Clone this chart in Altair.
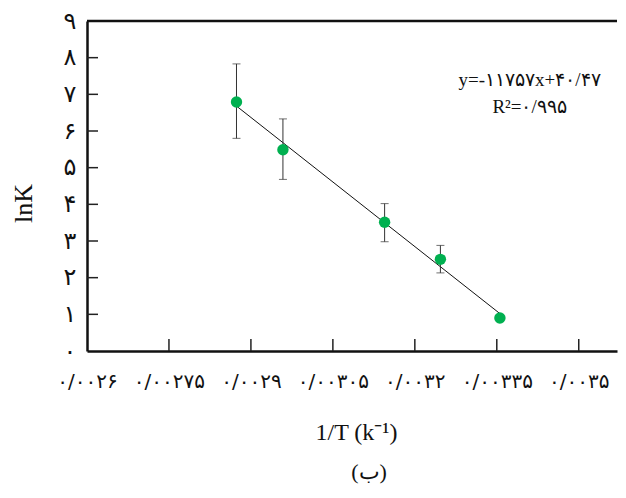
import json
import altair as alt
import pandas as pd

# ---- data ----
inv_T = [0.0028736, 0.0029586, 0.0031447, 0.0032468, 0.0033557]
lnK = [6.79, 5.49, 3.51, 2.50, 0.90]
err_x = [0.0028736, 0.0029586, 0.0031447, 0.0032468]
err_lo = [5.80, 4.68, 2.98, 2.13]
err_hi = [7.83, 6.33, 4.02, 2.88]
fit_x = [0.0028736, 0.0033557]
fit_y = [6.68, 1.02]

x_ticks = [0.0026, 0.00275, 0.0029, 0.00305, 0.0032, 0.00335, 0.0035]
x_labels = ["۰/۰۰۲۶", "۰/۰۰۲۷۵", "۰/۰۰۲۹", "۰/۰۰۳۰۵", "۰/۰۰۳۲", "۰/۰۰۳۳۵", "۰/۰۰۳۵"]
y_ticks = [0, 1, 2, 3, 4, 5, 6, 7, 8, 9]
y_labels = ["۰", "۱", "۲", "۳", "۴", "۵", "۶", "۷", "۸", "۹"]

eq_text = ["y=-۱۱۷۵۷x+۴۰/۴۷", "R²=۰/۹۹۵"]
eq_x = [0.00341, 0.00341]
eq_y = [7.38, 6.65]

x_title = "1/T (k⁻¹)"
y_title = "lnK"
caption = "(ب)"

pts = pd.DataFrame({"x": inv_T, "y": lnK})
errs = pd.DataFrame({"x": err_x, "lo": err_lo, "hi": err_hi})
fit = pd.DataFrame({"x": fit_x, "y": fit_y})
xt = pd.DataFrame({"x": x_ticks[1:]})
yt = pd.DataFrame({"y": y_ticks[1:-1]})
top = pd.DataFrame({"y": [9]})
eq = pd.DataFrame({"x": eq_x, "y": eq_y, "s": eq_text})

xs = alt.Scale(domain=[0.0026, 0.00357], nice=False, zero=False)
ys = alt.Scale(domain=[0, 9], nice=False, zero=True)

x_expr = json.dumps(x_labels, ensure_ascii=False) + "[round((datum.value-0.0026)/0.00015)]"
y_expr = json.dumps(y_labels, ensure_ascii=False) + "[round(datum.value)]"

x_axis = alt.Axis(values=x_ticks, labelExpr=x_expr, ticks=False, grid=False,
                  labelFlush=False, labelOverlap=False,
                  domain=True, domainColor="#111", domainWidth=2.5,
                  labelFont="DejaVu Sans", labelFontSize=20, labelColor="#111",
                  labelPadding=20, title=x_title, titleFont="Liberation Serif",
                  titleFontSize=24, titleFontWeight="normal", titleColor="#111",
                  titleX=269, titleY=88, titleAlign="center", titleBaseline="alphabetic")
y_axis = alt.Axis(values=y_ticks, labelExpr=y_expr, ticks=False, grid=False,
                  labelFlush=False, labelOverlap=False,
                  domain=True, domainColor="#111", domainWidth=2.5,
                  labelFont="DejaVu Sans", labelFontSize=24, labelColor="#111",
                  labelPadding=11, title=y_title, titleFont="Liberation Serif",
                  titleFontSize=26, titleFontWeight="normal", titleColor="#111",
                  titleAngle=-90, titleX=-56, titleY=182, titleAlign="center",
                  titleBaseline="alphabetic")


def X(f):
    return alt.X(f, type="quantitative", scale=xs, axis=x_axis)


def Y(f):
    return alt.Y(f, type="quantitative", scale=ys, axis=y_axis)


top_line = alt.Chart(top).mark_rule(color="#111", strokeWidth=2.5).encode(y=Y("y"))
xtick_marks = alt.Chart(xt).mark_rule(color="#222", strokeWidth=1.5).encode(
    x=X("x"), y=alt.value(330), y2=alt.value(318)
)
ytick_marks = alt.Chart(yt).mark_rule(color="#222", strokeWidth=1.5).encode(
    y=Y("y"), x=alt.value(0), x2=alt.value(11)
)
fit_line = alt.Chart(fit).mark_line(color="#111", strokeWidth=1).encode(x=X("x"), y=Y("y"))
err_rule = alt.Chart(errs).mark_rule(color="#333", strokeWidth=1).encode(
    x=X("x"), y=Y("lo"), y2="hi:Q"
)
cap_lo = alt.Chart(errs).mark_tick(color="#333", orient="horizontal", size=8, thickness=1).encode(
    x=X("x"), y=Y("lo")
)
cap_hi = alt.Chart(errs).mark_tick(color="#333", orient="horizontal", size=8, thickness=1).encode(
    x=X("x"), y=Y("hi")
)
points = alt.Chart(pts).mark_circle(color="#00B050", opacity=1, size=130).encode(
    x=X("x"), y=Y("y")
)
eq_marks = alt.Chart(eq).mark_text(font="Liberation Serif", fontSize=19, color="#111",
                                   align="center", baseline="middle").encode(
    x=X("x"), y=Y("y"), text="s:N"
)
cap_mark = alt.Chart(pd.DataFrame({"s": [caption]})).mark_text(
    font="Liberation Serif", fontSize=22, color="#111", align="center", baseline="alphabetic"
).encode(x=alt.value(282), y=alt.value(458), text="s:N")

chart = alt.layer(
    top_line, xtick_marks, ytick_marks, fit_line, err_rule, cap_lo, cap_hi,
    points, eq_marks, cap_mark
).properties(
    width=530, height=330,
    autosize=alt.AutoSizeParams(type="none"),
    padding={"left": 79, "top": 13, "right": 1, "bottom": 137},
).configure_view(stroke=None)

chart.save("out.html", embed_options={"renderer": "svg", "actions": False})
